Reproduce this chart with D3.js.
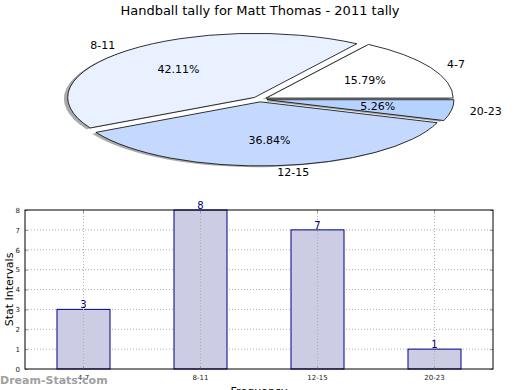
<!DOCTYPE html>
<html>
<head>
<meta charset="utf-8">
<script src="https://cdn.jsdelivr.net/npm/d3@7"></script>
<style>
body { margin: 0; background: #fff; }
svg { font-family: "DejaVu Sans", sans-serif; }
</style>
</head>
<body>
<div id="chart"></div>
<script>
// data
var categories = ["4-7", "8-11", "12-15", "20-23"];
var counts = [3, 8, 7, 1];
var pieColors = ["#ffffff", "#e9f0ff", "#c5d9ff", "#b5d3fe"];
var yTicks = [0, 1, 2, 3, 4, 5, 6, 7, 8];
var title = "Handball tally for Matt Thomas - 2011 tally";

var svg = d3.select("#chart").append("svg").attr("width", 520).attr("height", 390);

svg.append("text")
  .attr("x", 260).attr("y", 15)
  .attr("text-anchor", "middle")
  .attr("font-size", 13)
  .text(title);

// ---- pie (squashed, matplotlib style) ----
var cx = 259.6, cy = 99.3, rx = 187, ry = 64.1;
var explode = 0.04;
var total = d3.sum(counts);

var pie = d3.pie().sort(null)
  .startAngle(Math.PI / 2)
  .endAngle(Math.PI / 2 - 2 * Math.PI);
var arcs = pie(counts);
var arc = d3.arc().innerRadius(0).outerRadius(1);

function mid(d) { return (d.startAngle + d.endAngle) / 2; }

var pieG = svg.append("g")
  .attr("transform", "translate(" + cx + "," + cy + ") scale(" + rx + "," + ry + ")");

// shadows
pieG.selectAll("path.shadow")
  .data(arcs).enter().append("path")
  .attr("class", "shadow")
  .attr("transform", function(d) {
    var m = mid(d);
    return "translate(" + (explode * Math.sin(m) - 0.02) + "," + (-explode * Math.cos(m) + 0.02) + ")";
  })
  .attr("d", arc)
  .attr("fill", "#555")
  .attr("fill-opacity", 0.5);

pieG.selectAll("path.slice")
  .data(arcs).enter().append("path")
  .attr("class", "slice")
  .attr("transform", function(d) {
    var m = mid(d);
    return "translate(" + (explode * Math.sin(m)) + "," + (-explode * Math.cos(m)) + ")";
  })
  .attr("d", arc)
  .attr("fill", function(d, i) { return pieColors[i]; })
  .attr("stroke", "#000")
  .attr("stroke-width", 0.8)
  .attr("vector-effect", "non-scaling-stroke");

// category labels
svg.selectAll("text.plabel")
  .data(arcs).enter().append("text")
  .attr("class", "plabel")
  .attr("font-size", 11)
  .attr("dy", "0.35em")
  .attr("x", function(d) { var m = mid(d); return cx + (explode + 1.1) * Math.sin(m) * rx; })
  .attr("y", function(d) { var m = mid(d); return cy - (explode + 1.1) * Math.cos(m) * ry; })
  .attr("text-anchor", function(d) { return Math.sin(mid(d)) > 0 ? "start" : "end"; })
  .text(function(d, i) { return categories[i]; });

// percent labels
svg.selectAll("text.pct")
  .data(arcs).enter().append("text")
  .attr("class", "pct")
  .attr("font-size", 11)
  .attr("dy", "0.35em")
  .attr("text-anchor", "middle")
  .attr("x", function(d) { var m = mid(d); return cx + (explode + 0.6) * Math.sin(m) * rx; })
  .attr("y", function(d) { var m = mid(d); return cy - (explode + 0.6) * Math.cos(m) * ry; })
  .text(function(d) { return (d.value / total * 100).toFixed(2) + "%"; });

// ---- bar chart ----
var plotL = 25, plotR = 493, plotT = 210, plotB = 369;

var x = d3.scaleBand()
  .domain(categories)
  .range([plotL, plotR])
  .paddingInner(0.547)
  .paddingOuter(0.2735);

var y = d3.scaleLinear()
  .domain([0, 8])
  .range([plotB, plotT]);

var bar = svg.append("g");

// grid
bar.selectAll("line.hgrid")
  .data(yTicks.slice(1, -1)).enter().append("line")
  .attr("x1", plotL).attr("x2", plotR)
  .attr("y1", function(d) { return y(d); }).attr("y2", function(d) { return y(d); })
  .attr("stroke", "#b0b0b0").attr("stroke-width", 1)
  .attr("stroke-dasharray", "1,2");

bar.selectAll("rect.bar")
  .data(counts).enter().append("rect")
  .attr("class", "bar")
  .attr("x", function(d, i) { return x(categories[i]); })
  .attr("y", function(d) { return y(d); })
  .attr("width", x.bandwidth())
  .attr("height", function(d) { return y(0) - y(d); })
  .attr("fill", "#cccce5")
  .attr("stroke", "#000080")
  .attr("stroke-width", 1);

bar.selectAll("line.vgrid")
  .data(categories).enter().append("line")
  .attr("x1", function(d) { return x(d) + x.bandwidth() / 2; })
  .attr("x2", function(d) { return x(d) + x.bandwidth() / 2; })
  .attr("y1", plotT).attr("y2", plotB)
  .attr("stroke", "#b0b0b0").attr("stroke-width", 1)
  .attr("stroke-dasharray", "1,2");

bar.selectAll("text.val")
  .data(counts).enter().append("text")
  .attr("class", "val")
  .attr("x", function(d, i) { return x(categories[i]) + x.bandwidth() / 2; })
  .attr("y", function(d) { return y(d) - 1; })
  .attr("text-anchor", "middle")
  .attr("font-size", 10)
  .attr("fill", "#000080")
  .text(function(d) { return d; });

// axes
var yAxis = bar.append("g")
  .attr("transform", "translate(" + plotL + ",0)")
  .call(d3.axisLeft(y).tickValues(yTicks).tickSize(-3).tickPadding(5));
var yAxisR = bar.append("g")
  .attr("transform", "translate(" + plotR + ",0)")
  .call(d3.axisRight(y).tickValues(yTicks).tickSize(-3).tickFormat(""));
var xAxis = bar.append("g")
  .attr("transform", "translate(0," + plotB + ")")
  .call(d3.axisBottom(x).tickSize(-3).tickPadding(6));
var xAxisT = bar.append("g")
  .attr("transform", "translate(0," + plotT + ")")
  .call(d3.axisTop(x).tickSize(-3).tickFormat(""));

[yAxis, yAxisR, xAxis, xAxisT].forEach(function(a) {
  a.select(".domain").remove();
  a.selectAll(".tick line").attr("stroke", "#999");
  a.selectAll("text").attr("font-size", 7).attr("font-family", "DejaVu Sans").attr("fill", "#222");
});

bar.append("rect")
  .attr("x", plotL).attr("y", plotT)
  .attr("width", plotR - plotL).attr("height", plotB - plotT)
  .attr("fill", "none").attr("stroke", "#000").attr("stroke-width", 1);

svg.append("text")
  .attr("transform", "translate(13," + ((plotT + plotB) / 2) + ") rotate(-90)")
  .attr("text-anchor", "middle")
  .attr("font-size", 11)
  .text("Stat Intervals");

svg.append("text")
  .attr("x", (plotL + plotR) / 2).attr("y", 395)
  .attr("text-anchor", "middle")
  .attr("font-size", 11)
  .text("Frequency");

svg.append("text")
  .attr("x", 0).attr("y", 384)
  .attr("font-size", 11)
  .attr("font-weight", "bold")
  .attr("fill", "#a0a0a0")
  .text("Dream-Stats.com");
</script>
</body>
</html>
